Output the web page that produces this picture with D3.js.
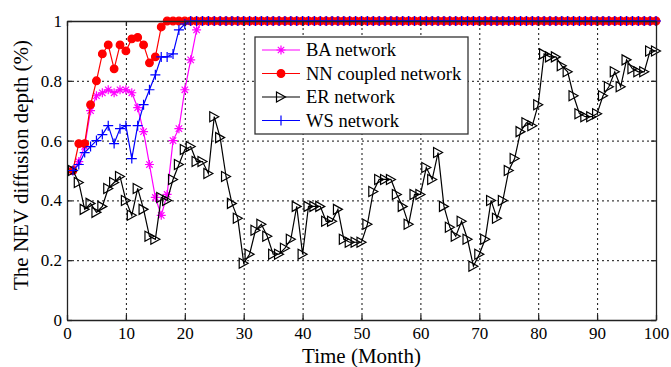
<!DOCTYPE html>
<meta charset="utf-8">
<style>
body { margin: 0; background: #fff; }
text { font-family: "Liberation Serif", "Times New Roman", serif; fill: #000; }
.grid line { stroke: #111; stroke-width: 1; stroke-dasharray: 2,3; }
.grid path { display: none; }
.axis path, .axis line { stroke: #222; stroke-width: 1.3; }
.axis text { font-size: 17px; }
.series path.line { fill: none; stroke-width: 1.2; }
</style>

<svg width="671" height="367"></svg>

<script src="https://cdnjs.cloudflare.com/ajax/libs/d3/7.8.5/d3.min.js"></script>
<script>
// months 1..100
var months = d3.range(1, 101);

var baValues = [0.50,0.53,0.58,0.70,0.75,0.76,0.77,0.76,0.77,0.77,
  0.76,0.71,0.63,0.52,0.41,0.35,0.42,0.60,0.64,0.77,
  0.87,0.97,1,1,1,1,1,1,1,1,
  1,1,1,1,1,1,1,1,1,1, 1,1,1,1,1,1,1,1,1,1,
  1,1,1,1,1,1,1,1,1,1, 1,1,1,1,1,1,1,1,1,1,
  1,1,1,1,1,1,1,1,1,1, 1,1,1,1,1,1,1,1,1,1,
  1,1,1,1,1,1,1,1,1,1];

var nnValues = [0.50,0.59,0.59,0.72,0.80,0.89,0.92,0.84,0.92,0.90,
  0.94,0.945,0.92,0.86,0.88,0.98,1,1,1,1,
  1,1,1,1,1,1,1,1,1,1, 1,1,1,1,1,1,1,1,1,1,
  1,1,1,1,1,1,1,1,1,1, 1,1,1,1,1,1,1,1,1,1,
  1,1,1,1,1,1,1,1,1,1, 1,1,1,1,1,1,1,1,1,1,
  1,1,1,1,1,1,1,1,1,1, 1,1,1,1,1,1,1,1,1,1];

var erValues = [0.50,0.46,0.37,0.39,0.36,0.38,0.44,0.46,0.48,0.40,
  0.35,0.44,0.37,0.28,0.27,0.41,0.40,0.47,0.52,0.57,
  0.58,0.53,0.53,0.49,0.68,0.61,0.48,0.39,0.34,0.19,
  0.22,0.30,0.32,0.28,0.22,0.22,0.24,0.27,0.38,0.22,
  0.38,0.38,0.38,0.33,0.33,0.37,0.27,0.26,0.26,0.26,
  0.32,0.43,0.47,0.47,0.47,0.42,0.38,0.32,0.42,0.42,
  0.51,0.47,0.56,0.38,0.31,0.28,0.33,0.27,0.18,0.22,
  0.27,0.40,0.34,0.40,0.50,0.54,0.63,0.66,0.65,0.72,
  0.89,0.88,0.88,0.85,0.83,0.75,0.69,0.68,0.68,0.69,
  0.75,0.78,0.83,0.78,0.87,0.84,0.83,0.83,0.90,0.90];

var wsValues = [0.50,0.52,0.56,0.58,0.60,0.62,0.65,0.59,0.64,0.65,
  0.54,0.65,0.72,0.77,0.82,0.88,0.88,0.89,0.97,0.99,
  1,1,1,1,1,1,1,1,1,1, 1,1,1,1,1,1,1,1,1,1,
  1,1,1,1,1,1,1,1,1,1, 1,1,1,1,1,1,1,1,1,1,
  1,1,1,1,1,1,1,1,1,1, 1,1,1,1,1,1,1,1,1,1,
  1,1,1,1,1,1,1,1,1,1, 1,1,1,1,1,1,1,1,1,1];

var seriesNames = ["BA network", "NN coupled network", "ER network", "WS network"];
var xTicks = [0, 10, 20, 30, 40, 50, 60, 70, 80, 90, 100];
var yTicks = [0, 0.2, 0.4, 0.6, 0.8, 1];
var yTickLabels = ["0", "0.2", "0.4", "0.6", "0.8", "1"];

var svg = d3.select("svg"),
    margin = {top: 21, right: 15, bottom: 47, left: 67},
    width = +svg.attr("width") - margin.left - margin.right,
    height = +svg.attr("height") - margin.top - margin.bottom;

var x = d3.scaleLinear().domain([0, 100]).range([0, width]);
var y = d3.scaleLinear().domain([0, 1]).range([height, 0]);

var g = svg.append("g").attr("transform", "translate(" + margin.left + "," + margin.top + ")");

// marker shapes (like matlab's *, o, >, +)
var markerPath = {
  asterisk: "M-4.5,0H4.5M0,-4.5V4.5M-3.2,-3.2L3.2,3.2M-3.2,3.2L3.2,-3.2",
  circle: d3.symbol(d3.symbolCircle, 46)(),
  triangle: "M-4.5,-5L4.5,0L-4.5,5Z",
  plus: "M-5,0H5M0,-5V5"
};

var series = [
  {name: seriesNames[0], values: baValues, color: "#ff00ff", marker: "asterisk", fill: "none"},
  {name: seriesNames[1], values: nnValues, color: "#ff0000", marker: "circle", fill: "#ff0000"},
  {name: seriesNames[2], values: erValues, color: "#000000", marker: "triangle", fill: "none"},
  {name: seriesNames[3], values: wsValues, color: "#0000ff", marker: "plus", fill: "none"}
];

// GRID
g.append("g")
    .attr("class", "grid")
    .attr("transform", "translate(0," + height + ")")
    .call(d3.axisBottom(x).tickValues(xTicks.slice(1, -1)).tickSize(-height).tickFormat(""));
g.append("g")
    .attr("class", "grid")
    .call(d3.axisLeft(y).tickValues(yTicks.slice(1, -1)).tickSize(-width).tickFormat(""));

// LINES + MARKERS
var line = d3.line()
    .x(function(d, i) { return x(months[i]); })
    .y(function(d) { return y(d); });

series.forEach(function(s) {
  var sg = g.append("g").attr("class", "series");
  sg.append("path")
      .attr("class", "line")
      .attr("stroke", s.color)
      .attr("d", line(s.values));
  sg.selectAll("path.mark")
    .data(s.values)
    .enter()
    .append("path")
      .attr("class", "mark")
      .attr("d", markerPath[s.marker])
      .attr("transform", function(d, i) { return "translate(" + x(months[i]) + "," + y(d) + ")"; })
      .attr("stroke", s.color)
      .attr("stroke-width", 1.2)
      .attr("fill", s.fill);
});

// AXES (ticks pointing inside, box all round)
g.append("g")
    .attr("class", "axis")
    .attr("transform", "translate(0," + height + ")")
    .call(d3.axisBottom(x).tickValues(xTicks).tickSizeInner(-5).tickSizeOuter(0).tickPadding(7));
g.append("g")
    .attr("class", "axis")
    .call(d3.axisLeft(y).tickValues(yTicks).tickSizeInner(-5).tickSizeOuter(0).tickPadding(5)
      .tickFormat(function(d, i) { return yTickLabels[i]; }));
g.append("g")
    .attr("class", "axis")
    .call(d3.axisTop(x).tickValues(xTicks).tickSizeInner(-5).tickSizeOuter(0).tickFormat(""));
g.append("g")
    .attr("class", "axis")
    .attr("transform", "translate(" + width + ",0)")
    .call(d3.axisRight(y).tickValues(yTicks).tickSizeInner(-5).tickSizeOuter(0).tickFormat(""));

// axis titles
svg.append("text")
    .attr("x", margin.left + width / 2)
    .attr("y", 363)
    .attr("text-anchor", "middle")
    .style("font-size", "21px")
    .text("Time (Month)");
svg.append("text")
    .attr("transform", "translate(28,165) rotate(-90)")
    .attr("text-anchor", "middle")
    .style("font-size", "21px")
    .text("The NEV diffusion depth (%)");

// LEGEND
var legend = svg.append("g").attr("transform", "translate(255,37)");
legend.append("rect")
    .attr("width", 213)
    .attr("height", 97)
    .attr("fill", "#fff")
    .attr("stroke", "#333")
    .attr("stroke-width", 1.3);
var rows = legend.selectAll("g.row")
    .data(series)
    .enter()
    .append("g")
      .attr("class", "row")
      .attr("transform", function(d, i) { return "translate(0," + (13 + i * 23.5) + ")"; });
rows.append("line")
    .attr("x1", 7).attr("x2", 45)
    .attr("stroke", function(d) { return d.color; })
    .attr("stroke-width", 1.2);
rows.append("path")
    .attr("d", function(d) { return markerPath[d.marker]; })
    .attr("transform", "translate(26,0)")
    .attr("stroke", function(d) { return d.color; })
    .attr("stroke-width", 1.2)
    .attr("fill", function(d) { return d.fill; });
rows.append("text")
    .attr("x", 51)
    .attr("dy", "0.35em")
    .style("font-size", "18.5px")
    .text(function(d) { return d.name; });
</script>
